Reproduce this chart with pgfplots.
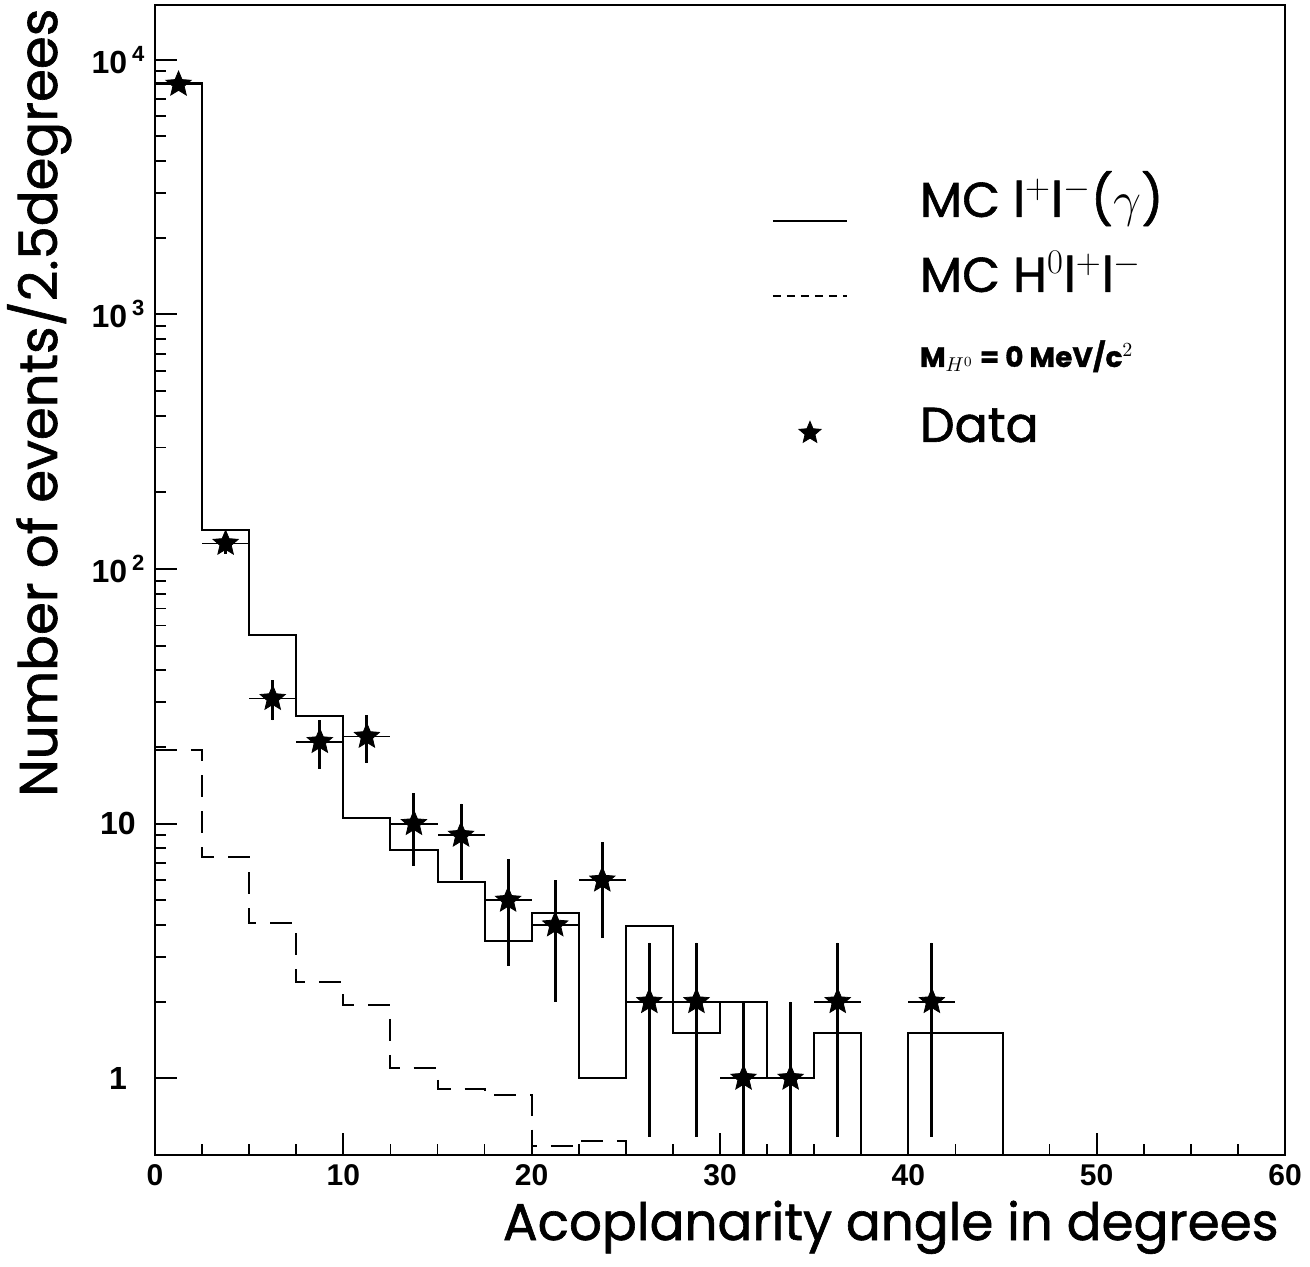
\documentclass[border=0pt]{standalone}
\usepackage{fontspec}
\setmainfont{Poppins}[FakeBold=1.2]
\newfontfamily\tickfont{Liberation Sans}
\usepackage{pgfplots}
\pgfplotsset{compat=1.18}
\usetikzlibrary{calc}

\pgfdeclareplotmark{fstar}{%
  \pgfpathmoveto{\pgfpointpolar{90}{\pgfplotmarksize}}%
  \pgfpathlineto{\pgfpointpolar{126}{0.45*\pgfplotmarksize}}%
  \pgfpathlineto{\pgfpointpolar{162}{\pgfplotmarksize}}%
  \pgfpathlineto{\pgfpointpolar{198}{0.45*\pgfplotmarksize}}%
  \pgfpathlineto{\pgfpointpolar{234}{\pgfplotmarksize}}%
  \pgfpathlineto{\pgfpointpolar{270}{0.45*\pgfplotmarksize}}%
  \pgfpathlineto{\pgfpointpolar{306}{\pgfplotmarksize}}%
  \pgfpathlineto{\pgfpointpolar{342}{0.45*\pgfplotmarksize}}%
  \pgfpathlineto{\pgfpointpolar{18}{\pgfplotmarksize}}%
  \pgfpathlineto{\pgfpointpolar{54}{0.45*\pgfplotmarksize}}%
  \pgfpathclose
  \pgfusepathqfillstroke}

\pgfplotstableread{
x      y     ex    ep     em
1.25   8000  1.25  89     89
3.75   126   1.25  11.2   11.2
6.25   31    1.25  5.57   5.57
8.75   21    1.25  4.58   4.58
11.25  22    1.25  4.69   4.69
13.75  10    1.25  3.16   3.16
16.25  9     1.25  3.0    3.0
18.75  5     1.25  2.24   2.24
21.25  4     1.25  2.0    2.0
23.75  6     1.25  2.45   2.45
26.25  2     1.25  1.41   1.41
28.75  2     1.25  1.41   1.41
31.25  1     1.25  1.0    0.999
33.75  1     1.25  1.0    0.999
36.25  2     1.25  1.41   1.41
41.25  2     1.25  1.41   1.41
}\datatable

\newcommand{\tsup}[1]{\hspace{2.5pt}\raisebox{6pt}{\fontsize{11}{11}\selectfont #1}}

\begin{document}
\begin{tikzpicture}
\begin{axis}[name=ax,
  scale only axis, width=565pt, height=575pt,
  xmin=0, xmax=60, ymode=log, ymin=0.5, ymax=16400,
  xtick={0,10,20,30,40,50,60},
  xticklabels={0,10,20,30,40,50,60},
  minor x tick num=3,
  ytick={1,10,100,1000,10000},
  yticklabels={1,10,10\tsup{2},10\tsup{3},10\tsup{4}},
  tick align=inside, xtick pos=bottom, ytick pos=left,
  major tick length=11pt, minor tick length=5.5pt,
  every tick/.style={black, line width=0.9pt},
  axis line style={line width=1.1pt},
  xticklabel style={font=\tickfont\bfseries\fontsize{15}{17}\selectfont, yshift=-1pt},
  yticklabel style={font=\tickfont\bfseries\fontsize{16}{18}\selectfont, anchor=center, xshift=-18.5pt},
  xlabel={Acoplanarity angle in degrees},
  xlabel style={font=\fontsize{25.8}{28}\selectfont, inner sep=0pt, at={($(rel axis cs:1,0)+(-3pt,-42.5pt)$)}, anchor=base east},
  ylabel={Number of events/2.5degrees},
  ylabel style={font=\fontsize{26.5}{30}\selectfont, inner sep=0pt, at={($(rel axis cs:0,0.3113)+(-49pt,0pt)$)}, anchor=base west},
  legend style={at={(rel axis cs:0.546,0.847)}, anchor=north west, draw=none, fill=none,
    inner sep=0pt, outer sep=0pt, row sep=13.5pt,
    nodes={inner sep=0pt, text height=18pt, text depth=6pt, font=\fontsize{24.5}{28}\selectfont},
    /tikz/every odd column/.append style={column sep=36pt}},
  legend cell align=left,
]
% MC l+l-(gamma)
\addplot[const plot, black, line width=1pt, forget plot] coordinates {
 (0,8100) (2.5,142) (5,55) (7.5,26.5) (10,10.5) (12.5,7.9) (15,5.9) (17.5,3.45)
 (20,4.45) (22.5,1.0) (25,3.96) (27.5,1.5) (30,2.0) (32.5,1.0) (35,1.5) (37.5,0.1)
 (40,1.5) (42.5,1.5) (45,0.1) (60,0.1)};
% MC H0 l+l-
\addplot[const plot, black, line width=1pt, dash pattern=on 11pt off 7pt, forget plot] coordinates {
 (0,19.4) (2.5,7.4) (5,4.06) (7.5,2.38) (10,1.94) (12.5,1.1) (15,0.91) (17.5,0.86)
 (20,0.54) (22.5,0.57) (25,0.1) (27.5,0.1)};
% Data: horizontal (bin width) bars
\addplot[only marks, mark=none, black, forget plot,
  error bars/.cd, x dir=both, x explicit,
  error mark=none, error bar style={line width=0.9pt, black}]
  table[x=x, y=y, x error=ex] {\datatable};
% Data: points with vertical errors
\addplot[only marks, mark=fstar, mark size=6.6pt, black, fill=black, forget plot,
  error bars/.cd, y dir=both, y explicit,
  error mark=none, error bar style={line width=1.5pt, black}]
  table[x=x, y=y, y error plus=ep, y error minus=em] {\datatable};

\addlegendimage{legend image code/.code={\draw[line width=1pt] (0pt,-8pt) -- (37pt,-8pt);}}
\addlegendentry{MC l$^{+}$l$^{-}$($\gamma$)}
\addlegendimage{legend image code/.code={\draw[line width=1pt, dash pattern=on 4pt off 3pt] (0pt,-8pt) -- (37pt,-8pt);}}
\addlegendentry{MC H$^{0}$l$^{+}$l$^{-}$}
\addlegendimage{legend image code/.code={\path[draw=none] (0pt,0pt) -- (37pt,0pt);}}
\addlegendentry{\fontsize{14}{16}\selectfont\bfseries M$_{H^0}$ = 0 MeV/c$^2$}
\addlegendimage{legend image code/.code={\path[draw=none] (0pt,0pt) -- (37pt,0pt); \fill[black] plot[mark=fstar, mark size=5.8pt] coordinates {(18.5pt,-1.5pt)};}}
\addlegendentry{Data}
\end{axis}
\pgfresetboundingbox
\path[use as bounding box] (ax.south west) ++(-77.5pt,-56pt) rectangle ++(655pt,633.5pt);
\end{tikzpicture}
\end{document}
